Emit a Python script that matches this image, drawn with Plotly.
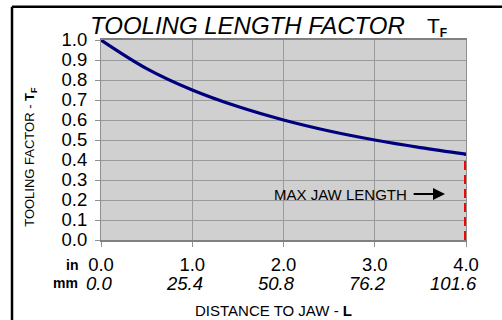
import plotly.graph_objects as go

# distance to jaw L (in) and tooling factor
dist_in = [0.0, 0.5, 1.0, 1.5, 2.0, 2.5, 3.0, 3.5, 4.0]
tooling_factor = [1.0, 0.857, 0.75, 0.667, 0.6, 0.545, 0.5, 0.462, 0.429]

x_ticks = [0.0, 1.0, 2.0, 3.0, 4.0]
x_ticktext_in = ["0.0", "1.0", "2.0", "3.0", "4.0"]
x_ticktext_mm = ["0.0", "25.4", "50.8", "76.2", "101.6"]
y_ticks = [0.0, 0.1, 0.2, 0.3, 0.4, 0.5, 0.6, 0.7, 0.8, 0.9, 1.0]

max_jaw = 4.0
max_jaw_factor = 0.429

FONT = "Liberation Sans, Arial, sans-serif"

fig = go.Figure()

fig.add_trace(
    go.Scatter(
        x=[max_jaw, max_jaw],
        y=[0, max_jaw_factor],
        mode="lines",
        line=dict(color="#ff0000", width=4, dash="9px,5px"),
        hoverinfo="skip",
        cliponaxis=False,
    )
)
fig.add_trace(
    go.Scatter(
        x=dist_in,
        y=tooling_factor,
        mode="lines",
        line=dict(color="#00007f", width=3.2, shape="spline"),
        cliponaxis=False,
    )
)

fig.update_xaxes(
    range=[0, 4],
    tickvals=x_ticks,
    ticktext=x_ticktext_in,
    ticks="outside",
    ticklen=5,
    tickcolor="#909090",
    tickfont=dict(family=FONT, size=18.5, color="#000"),
    ticklabelstandoff=2,
    showgrid=True,
    gridcolor="#9a9a9a",
    gridwidth=1,
    showline=True,
    linecolor="#808080",
    linewidth=2,
    mirror=True,
    zeroline=False,
)
fig.update_yaxes(
    range=[0, 1],
    tickvals=y_ticks,
    tickformat=".1f",
    ticks="outside",
    ticklen=5,
    tickcolor="#909090",
    tickfont=dict(family=FONT, size=18.5, color="#000"),
    ticklabelstandoff=4,
    showgrid=True,
    gridcolor="#9a9a9a",
    gridwidth=1,
    showline=True,
    linecolor="#909090",
    linewidth=1,
    mirror=True,
    zeroline=False,
)

# mm row under the inch tick labels
for xv, txt in zip(x_ticks, x_ticktext_mm):
    fig.add_annotation(
        x=xv, y=-0.215, xref="x", yref="paper",
        text=f"<i>{txt}</i>", showarrow=False,
        xanchor="right", yanchor="middle", xshift=13,
        font=dict(family=FONT, size=18.5, color="#000"),
    )

unit_font = dict(family=FONT, size=14, color="#000")
fig.add_annotation(x=-0.057, y=-0.125, xref="paper", yref="paper",
                   text="<b>in</b>", showarrow=False, xanchor="right",
                   yanchor="middle", font=unit_font)
fig.add_annotation(x=-0.057, y=-0.215, xref="paper", yref="paper",
                   text="<b>mm</b>", showarrow=False, xanchor="right",
                   yanchor="middle", font=unit_font)

# title
fig.add_annotation(
    x=0.401, y=1.075, xref="paper", yref="paper",
    text="<i>TOOLING LENGTH FACTOR</i>",
    showarrow=False, xanchor="center", yanchor="middle",
    font=dict(family=FONT, size=24, color="#000"),
)
fig.add_annotation(
    x=0.887, y=1.065, xref="paper", yref="paper",
    text="T<sub><span style='font-size:12px'><b>F</b></span></sub>",
    showarrow=False, xanchor="left", yanchor="middle",
    font=dict(family=FONT, size=21, color="#000"),
)
fig.add_annotation(
    x=0.4726, y=-0.35, xref="paper", yref="paper",
    text="DISTANCE TO JAW - <b>L</b>",
    showarrow=False, xanchor="center", yanchor="middle",
    font=dict(family=FONT, size=15, color="#000"),
)
fig.add_annotation(
    x=-0.195, y=0.415, xref="paper", yref="paper",
    text="TOOLING FACTOR - <b>T<sub>F</sub></b>", textangle=-90,
    showarrow=False, xanchor="center", yanchor="middle",
    font=dict(family=FONT, size=13, color="#000"),
)

# max jaw length label and arrow
fig.add_annotation(
    x=3.375, y=0.23, text="MAX JAW LENGTH", showarrow=False,
    xanchor="right", yanchor="middle",
    font=dict(family=FONT, size=15, color="#000"),
)
fig.add_annotation(
    x=3.77, y=0.23, ax=3.41, ay=0.23, axref="x", ayref="y",
    text="", showarrow=True, arrowhead=2, arrowsize=1.2,
    arrowwidth=2, arrowcolor="#000",
)

# outer frame: left and top edges
frame = dict(color="#000", width=2.5)
fig.add_shape(type="line", xref="paper", yref="paper",
              x0=-0.2438, x1=-0.2438, y0=-0.45, y1=1.166, line=frame)
fig.add_shape(type="line", xref="paper", yref="paper",
              x0=-0.2438, x1=1.11, y0=1.166, y1=1.166, line=frame)

fig.update_layout(
    width=502,
    height=320,
    margin=dict(l=101, r=36, t=40, b=80),
    plot_bgcolor="#d0d0d0",
    paper_bgcolor="#ffffff",
    showlegend=False,
)

fig.write_html(
    "out.html",
    config={"displayModeBar": False},
    post_script="document.body.style.margin='0';",
)
